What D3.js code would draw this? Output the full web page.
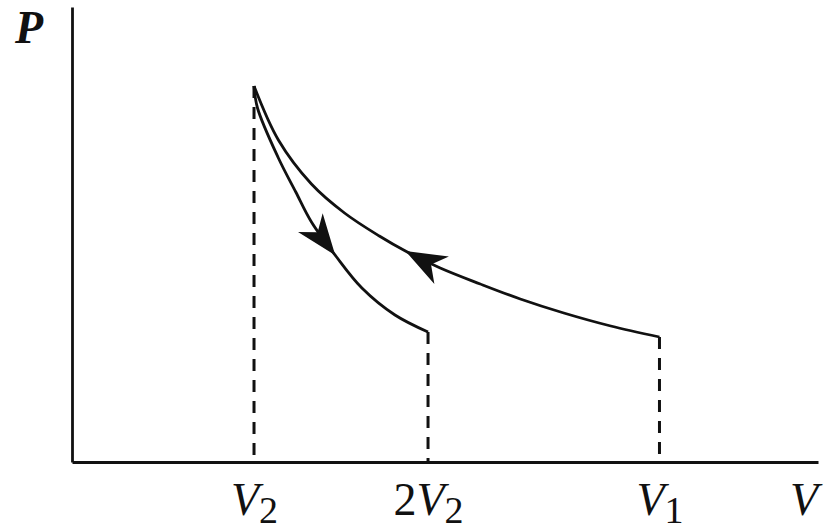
<!DOCTYPE html>
<html>
<head>
<meta charset="utf-8">
<script src="https://cdn.jsdelivr.net/npm/d3@7"></script>
<style>
  html, body { margin: 0; padding: 0; background: #fff; }
  svg { display: block; }
  text { font-family: "Liberation Serif", "DejaVu Serif", serif; fill: #111; }
</style>
</head>
<body>
<svg id="chart" width="826" height="531"></svg>
<script>
// ---- data (V in units of V2, P in arbitrary units) ----
const compressionV = [3.33, 3.05, 2.78, 2.53, 2.30, 2.07, 1.87, 1.72, 1.52, 1.33, 1.14, 1.00];
const compressionP = [1.25, 1.36, 1.49, 1.63, 1.78, 1.94, 2.11, 2.26, 2.49, 2.78, 3.22, 3.76];
const expansionV   = [1.00, 1.02, 1.14, 1.24, 1.33, 1.47, 1.62, 1.81, 2.00];
const expansionP   = [3.76, 3.54, 3.04, 2.70, 2.40, 2.06, 1.74, 1.47, 1.30];
const tickValues   = [1, 2, 3.33];
const tickPrefix   = ["", "2", ""];
const tickMain     = ["V", "V", "V"];
const tickSub      = ["2", "2", "1"];
const dropV        = [1, 2, 3.33];
const dropP        = [3.76, 1.30, 1.25];
const arrowTipV    = [1.87, 1.47];
const arrowTipP    = [2.11, 2.07];
const arrowOnCurve = ["compression", "expansion"];

const svg = d3.select("#chart");
const x = d3.scaleLinear().domain([-0.046, 4.241]).range([72, 818]);
const y = d3.scaleLinear().domain([0, 4.55]).range([462, 7]);

const ink = "#111";

// axes
const xAxis = d3.axisBottom(x).tickValues(tickValues).tickSize(0).tickSizeOuter(0).tickFormat("");
const gx = svg.append("g").attr("transform", `translate(0,${y(0)})`).call(xAxis);
gx.select(".domain").attr("stroke", ink).attr("stroke-width", 2.8);
gx.selectAll(".tick text").each(function(d, i) {
  const t = d3.select(this).text("")
    .attr("y", 53).attr("dy", 0)
    .attr("font-size", 46).attr("fill", ink)
    .attr("text-anchor", "middle")
    .attr("font-family", "'Liberation Serif', serif");
  if (tickPrefix[i]) t.append("tspan").text(tickPrefix[i]);
  t.append("tspan").attr("font-style", "italic").text(tickMain[i]);
  t.append("tspan").attr("font-size", 38).attr("dy", 8).text(tickSub[i]);
});

const yAxis = d3.axisLeft(y).tickValues([]).tickSizeOuter(0);
const gy = svg.append("g").attr("transform", `translate(${x.range()[0]},0)`).call(yAxis);
gy.select(".domain").attr("stroke", ink).attr("stroke-width", 2.8);

// axis titles
svg.append("text").attr("x", 15).attr("y", 43).attr("font-size", 46)
  .attr("font-style", "italic").attr("font-weight", "bold").text("P");
svg.append("text").attr("x", 790).attr("y", 515).attr("font-size", 46)
  .attr("font-style", "italic").text("V");

// dashed drop lines
svg.append("g").selectAll("line").data(dropV).join("line")
  .attr("x1", d => x(d)).attr("x2", d => x(d))
  .attr("y1", (d, i) => y(dropP[i])).attr("y2", y(0))
  .attr("stroke", ink).attr("stroke-width", 3)
  .attr("stroke-dasharray", "12,9");

// curves
const line = d3.line().x(d => x(d[0])).y(d => y(d[1])).curve(d3.curveCatmullRom.alpha(0.5));
const compData = compressionV.map((v, i) => [v, compressionP[i]]);
const expData = expansionV.map((v, i) => [v, expansionP[i]]);
const paths = {};
paths.compression = svg.append("path").datum(compData).attr("d", line)
  .attr("fill", "none").attr("stroke", ink).attr("stroke-width", 2.8);
paths.expansion = svg.append("path").datum(expData).attr("d", line)
  .attr("fill", "none").attr("stroke", ink).attr("stroke-width", 2.8);

// arrowheads placed on the curves, oriented along the tangent
arrowTipV.forEach((v, i) => {
  const node = paths[arrowOnCurve[i]].node();
  const total = node.getTotalLength();
  const tx = x(v), ty = y(arrowTipP[i]);
  let best = 0, bestD = Infinity;
  for (let s = 0; s <= total; s += 0.5) {
    const p = node.getPointAtLength(s);
    const dd = (p.x - tx) ** 2 + (p.y - ty) ** 2;
    if (dd < bestD) { bestD = dd; best = s; }
  }
  const p0 = node.getPointAtLength(Math.max(0, best - 3));
  const p1 = node.getPointAtLength(Math.min(total, best + 3));
  const tip = node.getPointAtLength(best);
  const ang = Math.atan2(p1.y - p0.y, p1.x - p0.x) * 180 / Math.PI;
  svg.append("path")
    .attr("d", "M0,0 L-41,-15.5 L-29,0 L-41,15.5 Z")
    .attr("transform", `translate(${tip.x},${tip.y}) rotate(${ang})`)
    .attr("fill", ink);
});
</script>
</body>
</html>
